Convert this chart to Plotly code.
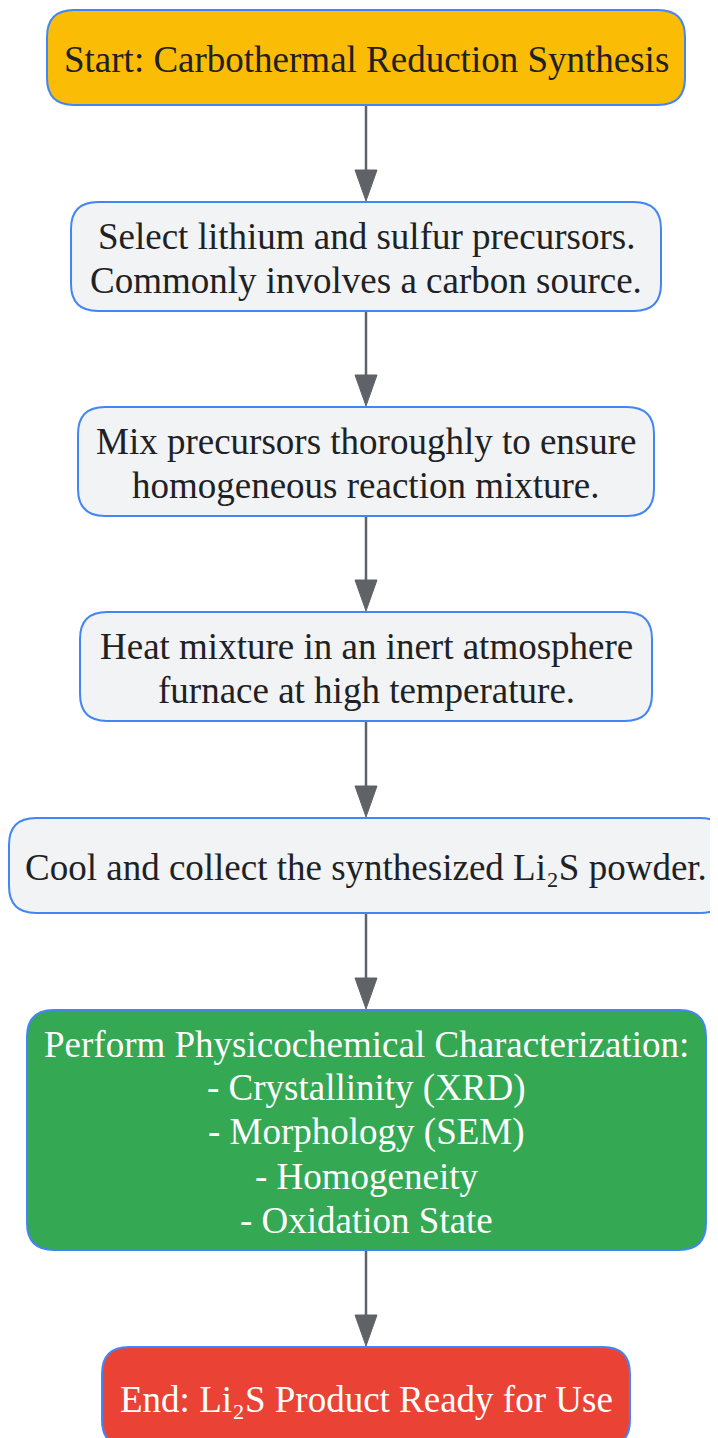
import plotly.graph_objects as go

# ---- content ----
labels = [
    ["Start: Carbothermal Reduction Synthesis"],
    ["Select lithium and sulfur precursors.", "Commonly involves a carbon source."],
    ["Mix precursors thoroughly to ensure", "homogeneous reaction mixture."],
    ["Heat mixture in an inert atmosphere", "furnace at high temperature."],
    ["Cool and collect the synthesized Li\u2082S powder."],
    ["Perform Physicochemical Characterization:", "- Crystallinity (XRD)",
     "- Morphology (SEM)", "- Homogeneity", "- Oxidation State"],
    ["End: Li\u2082S Product Ready for Use"],
]
fill_colors = ["#FBBC05", "#F1F3F4", "#F1F3F4", "#F1F3F4", "#F1F3F4", "#34A853", "#EA4335"]
text_colors = ["#202124", "#202124", "#202124", "#202124", "#202124", "#FFFFFF", "#FFFFFF"]

# ---- layout (box geometry, px in page coordinates) ----
box_x0 = [47, 71, 78, 80, 9, 27, 102]
box_x1 = [685, 661, 654, 652, 727, 706, 630]
box_y0 = [10, 202, 407, 612, 818, 1010, 1347]
box_y1 = [105, 311, 516, 721, 913, 1250, 1447]

W, H = 718, 1438
OFF = 8  # page body margin
CX = 366
BORDER = "#4285F4"
ARROW = "#5F6368"
R = 27
FS = 37
LINE = 44
TEXT_DY = 2


def rounded(x0, y0, x1, y1, r):
    return (f"M{x0+r},{y0} L{x1-r},{y0} Q{x1},{y0} {x1},{y0+r} "
            f"L{x1},{y1-r} Q{x1},{y1} {x1-r},{y1} L{x0+r},{y1} "
            f"Q{x0},{y1} {x0},{y1-r} L{x0},{y0+r} Q{x0},{y0} {x0+r},{y0} Z")


fig = go.Figure()
shapes = []
annotations = []

for i, lines in enumerate(labels):
    shapes.append(dict(type="path", path=rounded(box_x0[i], box_y0[i], box_x1[i], box_y1[i], R),
                       fillcolor=fill_colors[i], line=dict(color=BORDER, width=2),
                       xref="x", yref="y", layer="below"))
    cy = (box_y0[i] + box_y1[i]) / 2 + TEXT_DY
    n = len(lines)
    for k, txt in enumerate(lines):
        annotations.append(dict(x=CX, y=cy + LINE * (k - (n - 1) / 2), xref="x", yref="y",
                                text=txt, showarrow=False,
                                font=dict(family="Liberation Serif", size=FS, color=text_colors[i]),
                                align="center", xanchor="center", yanchor="middle"))

# arrows between boxes
for i in range(len(labels) - 1):
    ys = box_y1[i] + 1
    ye = box_y0[i + 1] - 1
    shapes.append(dict(type="line", x0=CX, x1=CX, y0=ys, y1=ye - 28,
                       line=dict(color=ARROW, width=2.5), xref="x", yref="y"))
    shapes.append(dict(type="path",
                       path=f"M{CX-11},{ye-31} L{CX+11},{ye-31} L{CX},{ye} Z",
                       fillcolor=ARROW, line=dict(color=ARROW, width=1), xref="x", yref="y"))

fig.update_layout(
    width=W - OFF, height=H - OFF, margin=dict(l=0, r=0, t=0, b=0, pad=0),
    paper_bgcolor="white", plot_bgcolor="white",
    xaxis=dict(range=[OFF, W], visible=False, fixedrange=True),
    yaxis=dict(range=[H, OFF], visible=False, fixedrange=True),
    shapes=shapes, annotations=annotations, showlegend=False,
)

fig.write_html("out.html")
